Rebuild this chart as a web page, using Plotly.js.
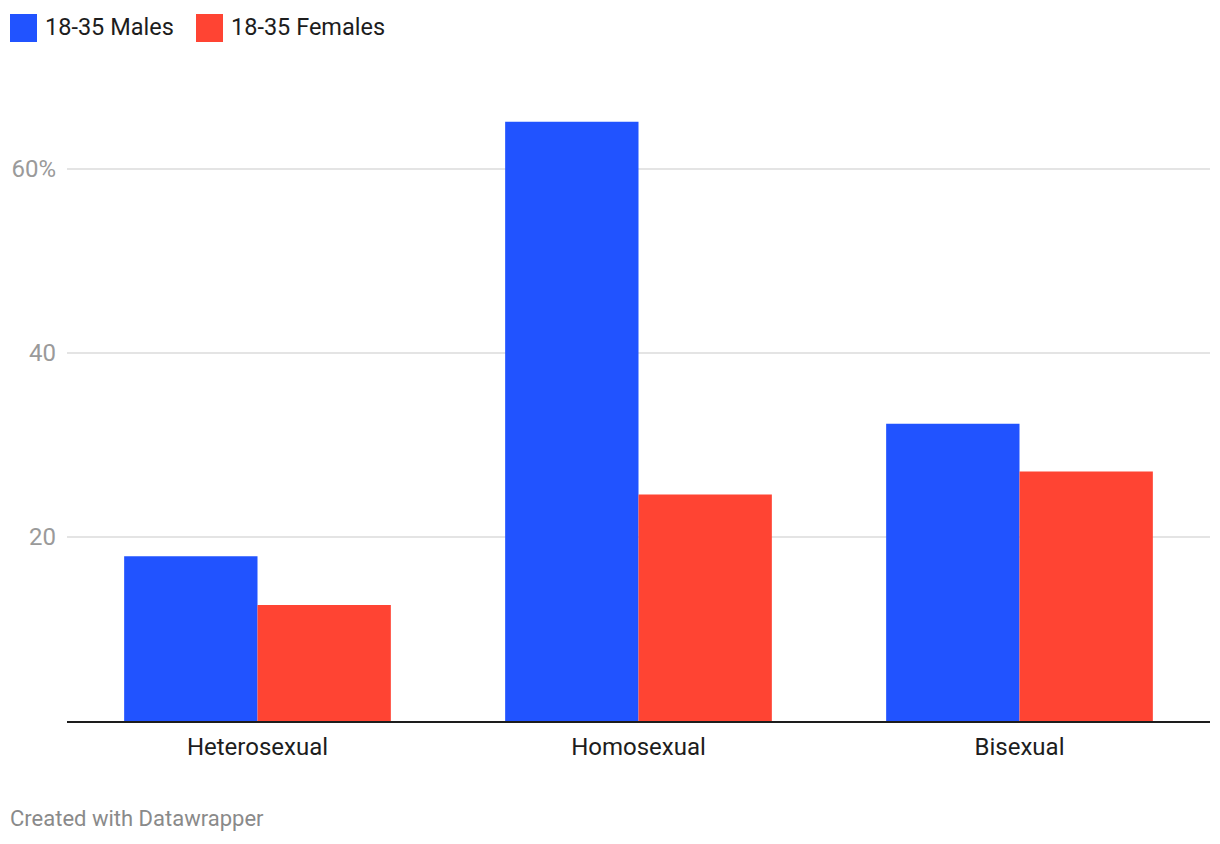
<!DOCTYPE html>
<html>
<head>
<meta charset="utf-8">
<script src="https://cdn.plot.ly/plotly-3.0.1.min.js"></script>
<style>html,body{margin:0;padding:0;background:#fff;}#chart{width:1220px;height:844px;}</style>
</head>
<body>
<div id="chart"></div>
<script>
const categories = ["Heterosexual", "Homosexual", "Bisexual"];
const males = [17.9, 65.1, 32.3];
const females = [12.6, 24.6, 27.1];
const seriesNames = ["18-35 Males", "18-35 Females"];
const seriesColors = ["#2153ff", "#ff4433"];
const yTickVals = [20, 40, 60];
const yTickText = ["20", "40", "60%"];

const W = 1220, H = 844;
const mL = 67, mR = 10, mT = 95, mB = 123;
const pw = W - mL - mR, ph = H - mT - mB;
const px = x => (x - mL) / pw;
const py = y => (H - mB - y) / ph;

const traces = [
  {type: "bar", x: categories, y: males, name: seriesNames[0], marker: {color: seriesColors[0], line: {width: 0}}, hoverinfo: "none"},
  {type: "bar", x: categories, y: females, name: seriesNames[1], marker: {color: seriesColors[1], line: {width: 0}}, hoverinfo: "none"}
];

const font = "Roboto, 'Noto Sans', sans-serif";
const legendShapes = [
  {type: "rect", xref: "paper", yref: "paper", x0: px(10), x1: px(37), y0: py(42), y1: py(14), fillcolor: seriesColors[0], line: {width: 0}},
  {type: "rect", xref: "paper", yref: "paper", x0: px(196), x1: px(223), y0: py(42), y1: py(14), fillcolor: seriesColors[1], line: {width: 0}}
];
const annotations = [
  {xref: "paper", yref: "paper", x: px(43), y: py(27), xanchor: "left", yanchor: "middle", text: seriesNames[0], showarrow: false, font: {family: font, size: 23.5, color: "#1d1d1d"}},
  {xref: "paper", yref: "paper", x: px(229), y: py(27), xanchor: "left", yanchor: "middle", text: seriesNames[1], showarrow: false, font: {family: font, size: 23.5, color: "#1d1d1d"}},
  {xref: "paper", yref: "paper", x: px(8), y: py(818), xanchor: "left", yanchor: "middle", text: "Created with Datawrapper", showarrow: false, font: {family: font, size: 22, color: "#8a8a8a"}}
];

const layout = {
  width: W, height: H,
  margin: {l: mL, r: mR, t: mT, b: mB, pad: 0},
  paper_bgcolor: "#fff", plot_bgcolor: "#fff",
  showlegend: false,
  barmode: "group",
  bargap: 0.3,
  bargroupgap: 0,
  font: {family: font},
  xaxis: {
    showline: true, linecolor: "#1d1d1d", linewidth: 2,
    showgrid: false, zeroline: false, ticks: "",
    tickfont: {family: font, size: 24, color: "#1d1d1d"},
    ticklabelstandoff: 3, fixedrange: true
  },
  yaxis: {
    range: [0, 68],
    tickvals: yTickVals, ticktext: yTickText,
    showgrid: true, gridcolor: "#e4e4e4", gridwidth: 2,
    zeroline: false, showline: false, ticks: "",
    tickfont: {family: font, size: 24, color: "#9a9a9a"},
    ticklabelstandoff: 10, fixedrange: true
  },
  shapes: legendShapes,
  annotations: annotations
};

Plotly.newPlot("chart", traces, layout, {displayModeBar: false, staticPlot: true});
</script>
</body>
</html>
